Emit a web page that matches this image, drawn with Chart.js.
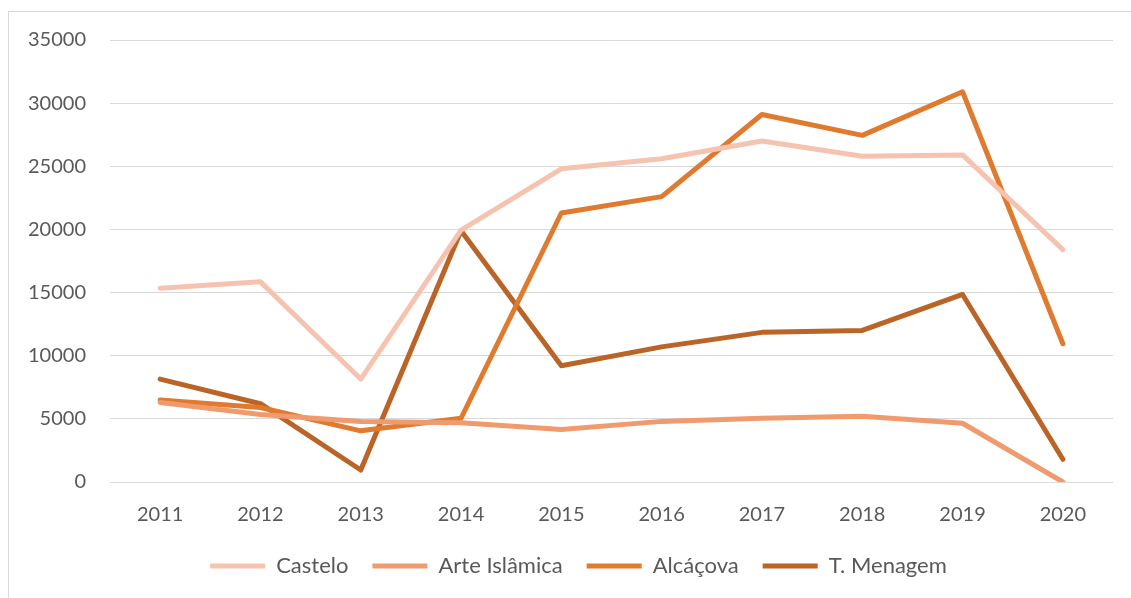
<!DOCTYPE html>
<html>
<head>
<meta charset="utf-8">
<script src="https://cdn.jsdelivr.net/npm/chart.js@4.4.1/dist/chart.umd.min.js"></script>
<style>
  html, body { margin: 0; padding: 0; background: #fff; overflow: hidden; }
  #frame {
    position: absolute; left: 8px; top: 11px; width: 1200px; height: 700px;
    border-top: 1px solid #d9d9d9; border-left: 1px solid #d9d9d9;
  }
  #wrap { position: absolute; left: 0; top: 0; width: 1131px; height: 598px; }
</style>
</head>
<body>
<div id="frame"></div>
<div id="wrap"><canvas id="chart"></canvas></div>
<script>
const years = ['2011', '2012', '2013', '2014', '2015', '2016', '2017', '2018', '2019', '2020'];
const castelo = [15350, 15850, 8150, 19950, 24800, 25600, 27000, 25800, 25900, 18400];
const arteIslamica = [6300, 5350, 4800, 4700, 4150, 4800, 5050, 5200, 4650, 0];
const alcacova = [6500, 5900, 4050, 5050, 21300, 22600, 29100, 27450, 30900, 10950];
const menagem = [8150, 6200, 950, 19900, 9200, 10700, 11850, 12000, 14850, 1800];

const seriesNames = ['Castelo', 'Arte Islâmica', 'Alcáçova', 'T. Menagem'];
const seriesColors = ['#F5C3AF', '#EF9B6E', '#DF7A2F', '#BA6427'];

// the original legend is centred on the whole frame, not on the plot
const shiftLegend = {
    id: 'shiftLegend',
    afterLayout(chart) {
        chart.legend.left += 22;
        chart.legend.right += 22;
    }
};

document.addEventListener('DOMContentLoaded', () => {
    const ctx = document.getElementById('chart').getContext('2d');
    const values = [castelo, arteIslamica, alcacova, menagem];

    const datasets = values.map((data, i) => ({
        label: seriesNames[i],
        data: data,
        borderColor: seriesColors[i],
        backgroundColor: seriesColors[i],
        borderWidth: 5,
        borderCapStyle: 'round',
        borderJoinStyle: 'round',
        pointRadius: 0,
        pointHoverRadius: 0,
        pointStyle: 'line',
        tension: 0
    }));

    new Chart(ctx, {
        type: 'line',
        data: { labels: years, datasets: datasets },
        plugins: [shiftLegend],
        options: {
            responsive: true,
            maintainAspectRatio: false,
            animation: false,
            layout: { padding: { left: 0, right: 18, top: 40, bottom: 11 } },
            font: { family: 'Lato', size: 20 },
            plugins: {
                tooltip: { enabled: false },
                legend: {
                    position: 'bottom',
                    labels: {
                        usePointStyle: true,
                        pointStyleWidth: 55,
                        boxHeight: 6,
                        padding: 24,
                        color: '#595959',
                        font: { family: 'Lato', size: 22 }
                    }
                }
            },
            scales: {
                x: {
                    offset: true,
                    grid: { display: false, drawTicks: false },
                    border: { display: false },
                    ticks: { color: '#595959', padding: 21, font: { family: 'Lato', size: 20 } },
                    afterFit: (scale) => { scale.height = 49; }
                },
                y: {
                    min: 0,
                    max: 35000,
                    ticks: {
                        stepSize: 5000,
                        color: '#595959',
                        padding: 24,
                        font: { family: 'Lato', size: 20 },
                        callback: (v) => String(v)
                    },
                    grid: { color: '#d9d9d9', lineWidth: 1, drawTicks: false },
                    border: { display: false },
                    afterFit: (scale) => { scale.width = 110; }
                }
            }
        }
    });
});
</script>
</body>
</html>
